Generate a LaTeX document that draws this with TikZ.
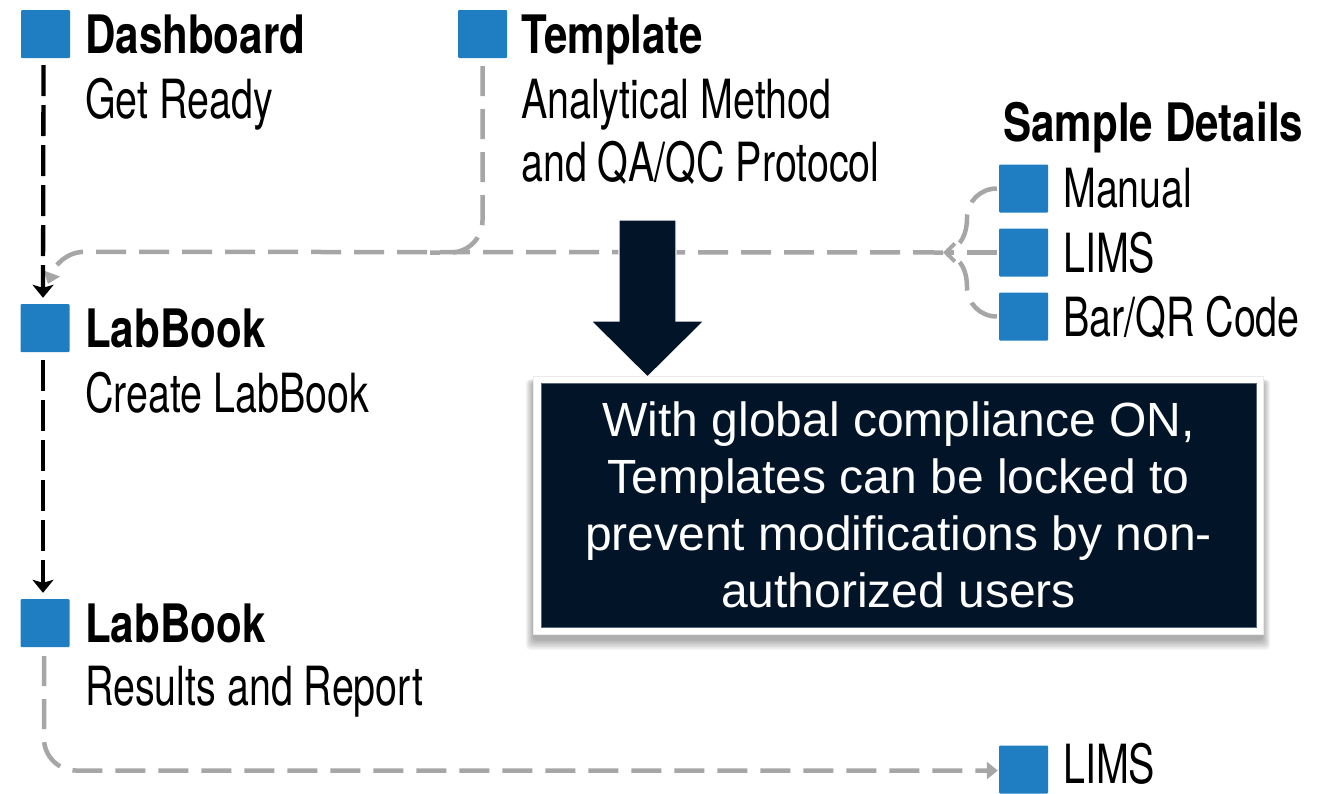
\documentclass[tikz,border=0pt]{standalone}
\usepackage{fontspec}
\setmainfont{Liberation Sans}
\newfontfamily\hdfont{TeX Gyre Heros}[FakeStretch=0.795]
\newfontfamily\bdfont{TeX Gyre Heros}[FakeStretch=0.73]
\usetikzlibrary{arrows.meta,calc}
\definecolor{sqblue}{HTML}{1F7EC2}
\definecolor{lgray}{HTML}{A6A6A6}
\definecolor{navy}{HTML}{021428}
\definecolor{navyedge}{HTML}{56677A}
\tikzset{
  sq/.style={fill=sqblue, minimum width=49pt, minimum height=48pt, inner sep=0pt, rounded corners=1pt},
  headtxt/.style={anchor=base west, inner sep=0pt, font=\hdfont\bfseries\fontsize{53}{60}\selectfont},
  bodytxt/.style={anchor=base west, inner sep=0pt, font=\bdfont\fontsize{54}{60}\selectfont},
  blkarrow/.style={draw=black, line width=4.3pt, dash pattern=on 31pt off 9pt,
     -{Stealth[length=13pt,width=21pt,inset=3pt]}},
  gryline/.style={draw=lgray, line width=4.5pt, dash pattern=on 30pt off 13pt},
  grytip/.style={-{Triangle[length=11pt,width=17pt]}},
  barbtip/.style={-{Straight Barb[length=9pt,width=18pt,line width=4pt]}},
  frame/.style={fill=white, draw=black!8, line width=0.8pt, minimum width=730pt, minimum height=258pt, inner sep=0pt},
  darkbox/.style={fill=navy, draw=navyedge, line width=1pt, minimum width=715pt, minimum height=244pt,
     inner sep=0pt, text=white, align=center, font=\fontsize{48}{57}\selectfont},
}
\begin{document}
\begin{tikzpicture}[x=1pt,y=-1pt]
\useasboundingbox (0,0) rectangle (1337,793);
\fill[white] (0,0) rectangle (1337,793);

% squares
\node[sq] (dsq) at (45.5,34) {};
\node[sq] (lb1sq) at (45,328) {};
\node[sq] (lb2sq) at (45,623) {};
\node[sq] (tsq) at (482.5,34) {};
\node[sq] (msq) at (1023.5,188.5) {};
\node[sq] (lsq) at (1023.5,252.5) {};
\node[sq] (bsq) at (1023.5,316.5) {};
\node[sq] (limsb) at (1023.5,769.5) {};

% texts
\node[headtxt] (dtitle) at (85,53) {Dashboard};
\node[bodytxt] (dsub) at (85,118) {Get Ready};
\node[headtxt] (ttitle) at (521,53) {Template};
\node[bodytxt] (tsub1) at (521,118) {Analytical Method};
\node[bodytxt] (tsub2) at (521,181) {and QA/QC Protocol};
\node[headtxt] (l1title) at (85,347) {LabBook};
\node[bodytxt] (l1sub) at (85,412) {Create LabBook};
\node[headtxt] (l2title) at (85,642) {LabBook};
\node[bodytxt] (l2sub) at (85,705) {Results and Report};
\node[headtxt] (sdtitle) at (1003,141) {Sample Details};
\node[bodytxt] (mtxt) at (1063,207) {Manual};
\node[bodytxt] (ltxt) at (1063,272) {LIMS};
\node[bodytxt] (btxt) at (1063,336) {Bar/QR Code};
\node[bodytxt] (lbtxt) at (1063,783) {LIMS};

% grey connectors
\coordinate (J) at (943,252.5);
\draw[gryline, grytip] (J) -- ($(lb1sq.north)+(40,-52)$) to[out=180,in=70] ($(lb1sq.north)+(3,-20)$);
\draw[gryline, rounded corners=32pt] ($(tsq.south)+(0,8)$) |- (430,252.5);
\draw[gryline, barbtip] ($(lsq.west)+(-2,0)$) -- (J);
\draw[gryline] ($(msq.west)+(-2,0)$) to[out=180,in=90] (967,218) to[out=-90,in=15] (947,251);
\draw[gryline] ($(bsq.west)+(-2,0)$) to[out=180,in=-90] (967,287) to[out=90,in=-15] (947,254);
\draw[gryline, grytip, rounded corners=32pt] ($(lb2sq.south)+(-1,9)$) |- ($(limsb.west)+(-1,1)$);

% black dashed arrows
\draw[blkarrow] ($(dsq.south)+(-2,7)$) -- ($(lb1sq.north)+(-2,-6)$);
\draw[blkarrow] ($(lb1sq.south)+(-2,8)$) -- ($(lb2sq.north)+(-2,-6)$);

% callout soft shadow
\foreach \i in {0,1,...,9} {
  \fill[black, opacity=0.035, rounded corners=4pt]
    ($(898,511)+(-365-\i*0.8,-129-\i*0.3)$) rectangle ($(898,511)+(365+\i*0.8,129+\i*1.1)$);
}
\node[frame] (cframe) at (898,505) {};
\node[darkbox] (cbox) at (898.5,505) {With global compliance ON,\\Templates can be locked to\\prevent modifications by non-\\authorized users};

% big arrow
\fill[navy, draw=white, line width=1.2pt] (619,220) -- (676,220) -- (676,321) -- (704,321) -- (647.5,377) -- (591,321) -- (619,321) -- cycle;
\end{tikzpicture}
\end{document}
